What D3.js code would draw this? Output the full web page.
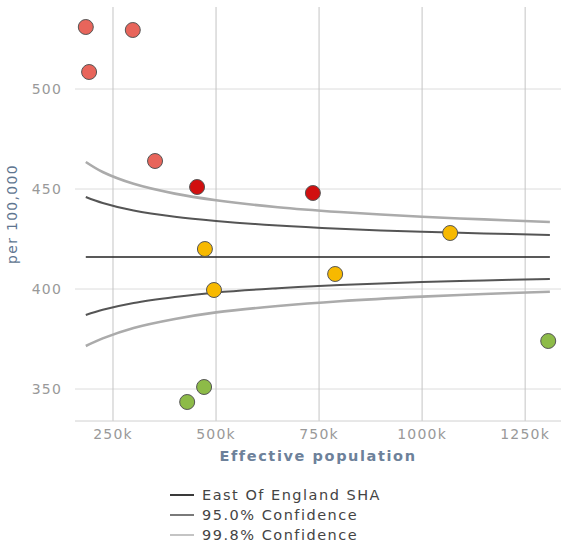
<!DOCTYPE html>
<html>
<head>
<meta charset="utf-8">
<script src="https://cdn.jsdelivr.net/npm/d3@7"></script>
<style>
  body { margin: 0; background: #fff; }
  svg { font-family: "DejaVu Sans", Verdana, sans-serif; }
</style>
</head>
<body>
<div id="chart"></div>
<script>
// Practices: effective population vs rate per 100,000
const popK = [184, 298, 192, 352, 454, 735, 473, 495, 1068, 789, 471, 430, 1306];
const rates = [531, 529.5, 508.5, 464, 451, 448, 420, 399.5, 428, 407.5, 351, 343.5, 374];
const bands = ["high", "high", "high", "high", "alert", "alert", "mid", "mid", "mid", "mid", "low", "low", "low"];

// Funnel limits
const limitPopK = [184, 225, 300, 400, 500, 650, 800, 1000, 1150, 1310];
const upper95 = [446, 443, 439.2, 436.1, 434, 431.7, 430.1, 428.6, 427.8, 427];
const lower95 = [387, 389.6, 393, 396, 398.3, 400.4, 402, 403.5, 404.3, 405];
const upper998 = [463.5, 458.5, 452.6, 447.7, 444.4, 440.9, 438.5, 436.1, 434.8, 433.5];
const lower998 = [371.5, 375.3, 380.5, 385, 388.3, 391.5, 393.9, 396.2, 397.5, 398.6];
const meanRate = 416;
const meanPopK = [184, 1310];

const xTicks = [250, 500, 750, 1000, 1250];
const yTicks = [350, 400, 450, 500];
const legendLabels = ["East Of England SHA", "95.0% Confidence", "99.8% Confidence"];

const bandColor = { high: "#e8655b", alert: "#d10f0f", mid: "#f7b900", low: "#8dbb48" };

const width = 568, height = 551;
const svg = d3.select("#chart").append("svg")
  .attr("width", width)
  .attr("height", height);

const x = d3.scaleLinear().domain([157.8, 1337]).range([75, 561]);
const y = d3.scaleLinear().domain([334, 541]).range([421, 7]);

// soft edges on the limit lines
svg.append("defs").append("filter")
  .attr("id", "soft")
  .append("feGaussianBlur")
  .attr("stdDeviation", 0.5);

// grid
svg.append("g")
  .selectAll("line")
  .data(yTicks)
  .join("line")
  .attr("x1", 75).attr("x2", 561)
  .attr("y1", d => y(d)).attr("y2", d => y(d))
  .attr("stroke", "#dcdcdc");

svg.append("g")
  .selectAll("line")
  .data(xTicks)
  .join("line")
  .attr("x1", d => x(d)).attr("x2", d => x(d))
  .attr("y1", 7).attr("y2", 421)
  .attr("stroke", "#c4c4c4");

svg.append("line")
  .attr("x1", 75).attr("x2", 561)
  .attr("y1", 421).attr("y2", 421)
  .attr("stroke", "#d0d0d0");

// tick labels
svg.append("g")
  .selectAll("text")
  .data(yTicks)
  .join("text")
  .attr("x", 62)
  .attr("y", d => y(d) + 5)
  .attr("text-anchor", "end")
  .attr("font-size", 14)
  .attr("letter-spacing", 1.2)
  .attr("fill", "#999")
  .text(d => d);

svg.append("g")
  .selectAll("text")
  .data(xTicks)
  .join("text")
  .attr("x", d => x(d))
  .attr("y", 439)
  .attr("text-anchor", "middle")
  .attr("font-size", 14)
  .attr("letter-spacing", 1.2)
  .attr("fill", "#999")
  .text(d => d + "k");

// axis titles
svg.append("text")
  .attr("x", 318)
  .attr("y", 461)
  .attr("text-anchor", "middle")
  .attr("font-size", 14.5)
  .attr("font-weight", "bold")
  .attr("letter-spacing", 1.6)
  .attr("fill", "#6d819a")
  .text("Effective population");

svg.append("text")
  .attr("transform", "translate(17,214) rotate(-90)")
  .attr("text-anchor", "middle")
  .attr("font-size", 14)
  .attr("letter-spacing", 1.3)
  .attr("fill", "#5e7590")
  .text("per 100,000");

// limit lines
const line = d3.line()
  .x(d => x(d[0]))
  .y(d => y(d[1]))
  .curve(d3.curveCatmullRom);

const limits = [
  { vals: upper998, color: "#ababab", w: 2.6 },
  { vals: lower998, color: "#ababab", w: 2.6 },
  { vals: upper95, color: "#555", w: 2 },
  { vals: lower95, color: "#555", w: 2 }
];

svg.append("g")
  .selectAll("path")
  .data(limits)
  .join("path")
  .attr("d", d => line(limitPopK.map((p, i) => [p, d.vals[i]])))
  .attr("fill", "none")
  .attr("stroke", d => d.color)
  .attr("stroke-width", d => d.w)
  .attr("filter", "url(#soft)");

svg.append("path")
  .attr("d", line(meanPopK.map(p => [p, meanRate])))
  .attr("fill", "none")
  .attr("stroke", "#222")
  .attr("stroke-width", 1.6);

// points
svg.append("g")
  .selectAll("circle")
  .data(popK.map((p, i) => ({ p, r: rates[i], b: bands[i] })))
  .join("circle")
  .attr("cx", d => x(d.p))
  .attr("cy", d => y(d.r))
  .attr("r", 7.5)
  .attr("fill", d => bandColor[d.b])
  .attr("stroke", "#555")
  .attr("stroke-width", 1);

// legend
const legendColors = ["#3a3a3a", "#7a7a7a", "#c4c4c4"];
const legend = svg.append("g")
  .selectAll("g")
  .data(legendLabels)
  .join("g")
  .attr("transform", (d, i) => `translate(170,${495 + i * 20})`);

legend.append("line")
  .attr("x1", 0).attr("x2", 24)
  .attr("stroke", (d, i) => legendColors[i])
  .attr("stroke-width", 2);

legend.append("text")
  .attr("x", 32)
  .attr("y", 5)
  .attr("font-size", 14.5)
  .attr("letter-spacing", 1.5)
  .attr("fill", "#444")
  .text(d => d);
</script>
</body>
</html>
